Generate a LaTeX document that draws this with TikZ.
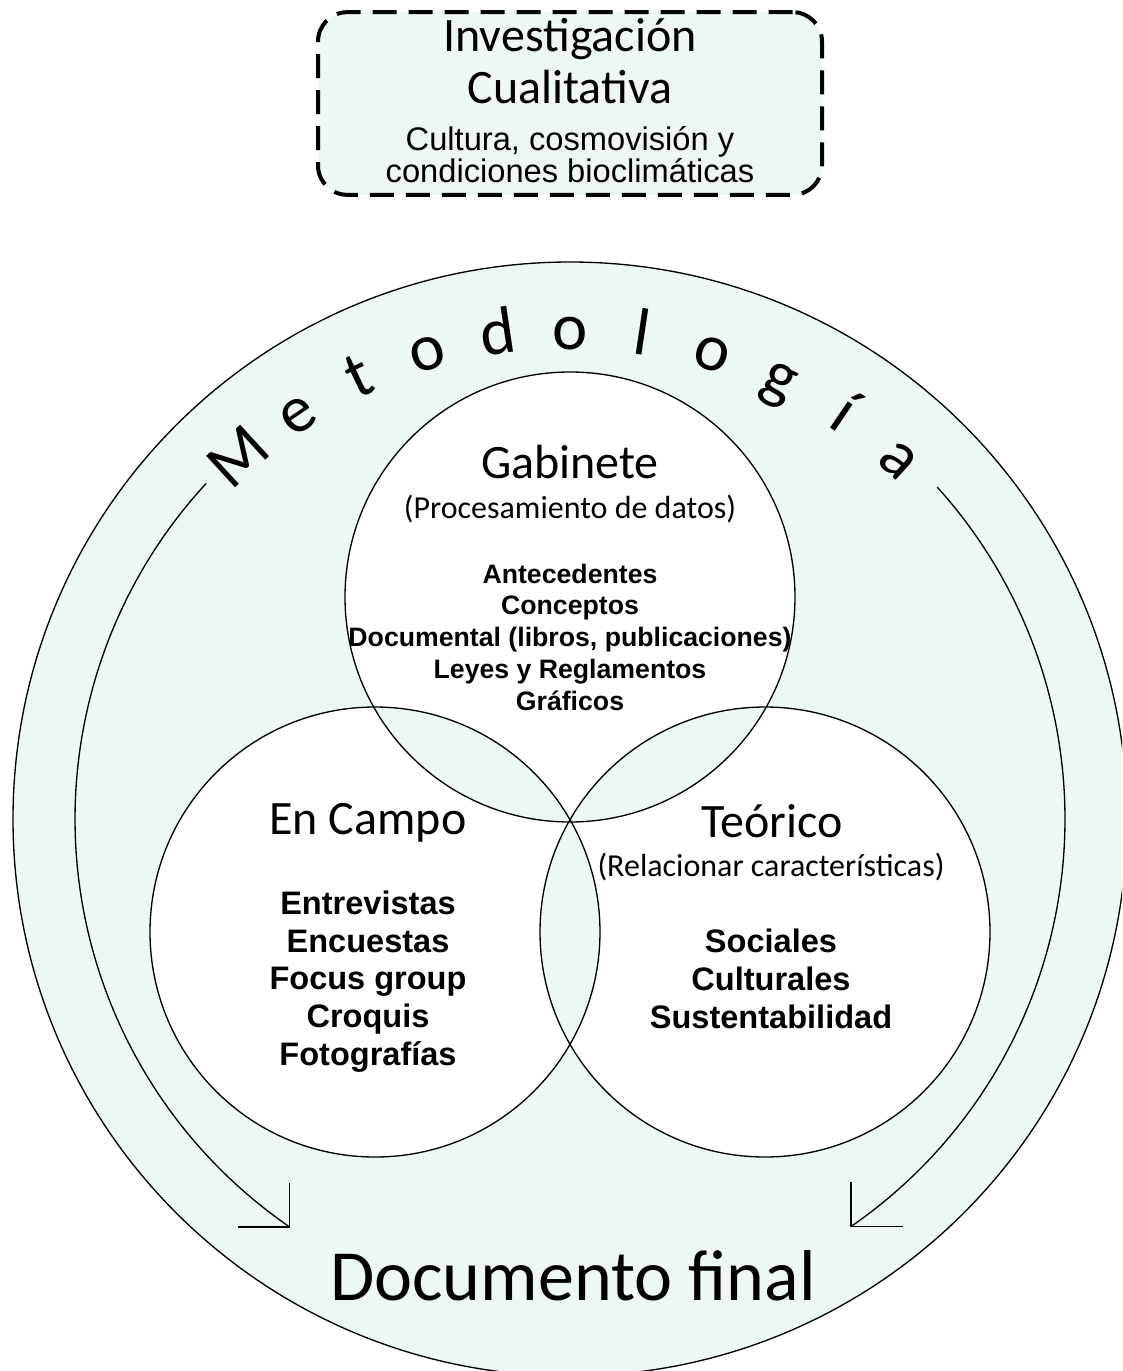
\documentclass[tikz,border=0pt]{standalone}
\usepackage{fontspec}
\setmainfont{Carlito}
\newfontfamily\arialf{Liberation Sans}
\definecolor{mint}{RGB}{238,248,242}
\begin{document}
\begin{tikzpicture}[x=0.75pt,y=-0.75pt,
  thinline/.style={draw=black, line width=1pt},
  venn/.style={circle, draw=black, line width=1pt, minimum size=337.5pt, inner sep=0pt},
  heading/.style={font=\fontsize{36}{38}\selectfont, anchor=base, inner sep=0pt},
  subhead/.style={font=\fontsize{24}{28}\selectfont, anchor=base, inner sep=0pt},
  blist/.style={font=\arialf\bfseries\fontsize{24.4}{28.2}\selectfont, align=center, anchor=base, inner sep=0pt},
  slist/.style={font=\arialf\bfseries\fontsize{20}{23.8}\selectfont, align=center, anchor=base, inner sep=0pt},
  metoletter/.style={font=\fontsize{50}{50}\selectfont, anchor=base, inner sep=0pt},
  topbox/.style={rectangle, rounded corners=22pt, draw=black, line width=3pt, dash pattern=on 18pt off 9pt, fill=mint, minimum width=378pt, minimum height=137pt, inner sep=0pt}
]
\useasboundingbox (0,0) rectangle (1122,1371);
\clip (0,0) rectangle (1122,1371);

% top box
\node[topbox] (inv) at (570,103.5) {};
\node[heading, align=center, font=\fontsize{36}{38.3}\selectfont] (invt) at (570,103) {Investigación\\Cualitativa};
\node[anchor=base, inner sep=0pt, align=center, font=\arialf\fontsize{24.5}{24}\selectfont] (invs) at (570,182) {Cultura, cosmovisión y\\condiciones bioclimáticas};

% big circle
\coordinate (c0) at (570,819);
\node[circle, fill=mint, draw=black, line width=1pt, minimum size=835.5pt, inner sep=0pt] (meto) at (c0) {};

% venn fill: single regions white, overlaps mint
\fill[white, even odd rule] (570,597) circle[radius=225] (375,932) circle[radius=225] (765,932) circle[radius=225];
\node[venn] (gab) at (570,597) {};
\node[venn] (campo) at (375,932) {};
\node[venn] (teo) at (765,932) {};

% Metodologia letters
\foreach \ch [count=\i from 0] in {M,e,t,o,d,o,l,o,g,í,a} {
  \pgfmathsetmacro\ang{90+8.5*(5-\i)}
  \pgfmathsetmacro\rot{\ang-90}
  \node[metoletter, rotate=\rot] (L\i) at ([shift={(-\ang:470)}]c0) {\ch};
}

% arrows
\coordinate (Ls) at ([shift={(-137.3:495)}]c0);
\draw[thinline] (Ls) arc[start angle=-137.3, end angle=-235.5, radius=495] coordinate (Lt);
\draw[thinline] (Lt) ++(0,-44) -- (Lt) -- ++(-52,0);
\coordinate (Rs) at ([shift={(-42.1:495)}]c0);
\draw[thinline] (Rs) arc[start angle=-42.1, end angle=55.4, radius=495] coordinate (Rt);
\draw[thinline] (Rt) ++(0,-44) -- (Rt) -- ++(52,0);

% Gabinete
\node[heading] (gabt) at (570,478) {Gabinete};
\node[subhead] (gabs) at (570,518) {(Procesamiento de datos)};
\node[slist] (gabl) at (570,710) {Antecedentes\\Conceptos\\Documental (libros, publicaciones)\\Leyes y Reglamentos\\Gráficos};

% En Campo
\node[heading] (campot) at (368,834) {En Campo};
\node[blist] (campol) at (368,1065) {Entrevistas\\Encuestas\\Focus group\\Croquis\\Fotografías};

% Teorico
\node[heading] (teot) at (772,837) {Teórico};
\node[subhead] (teos) at (771,876) {(Relacionar características)};
\node[blist] (teol) at (771,1028) {Sociales\\Culturales\\Sustentabilidad};

% Documento final
\node[anchor=base, inner sep=0pt, font=\fontsize{54}{54}\selectfont] (doc) at (573,1300) {Documento final};
\end{tikzpicture}
\end{document}
